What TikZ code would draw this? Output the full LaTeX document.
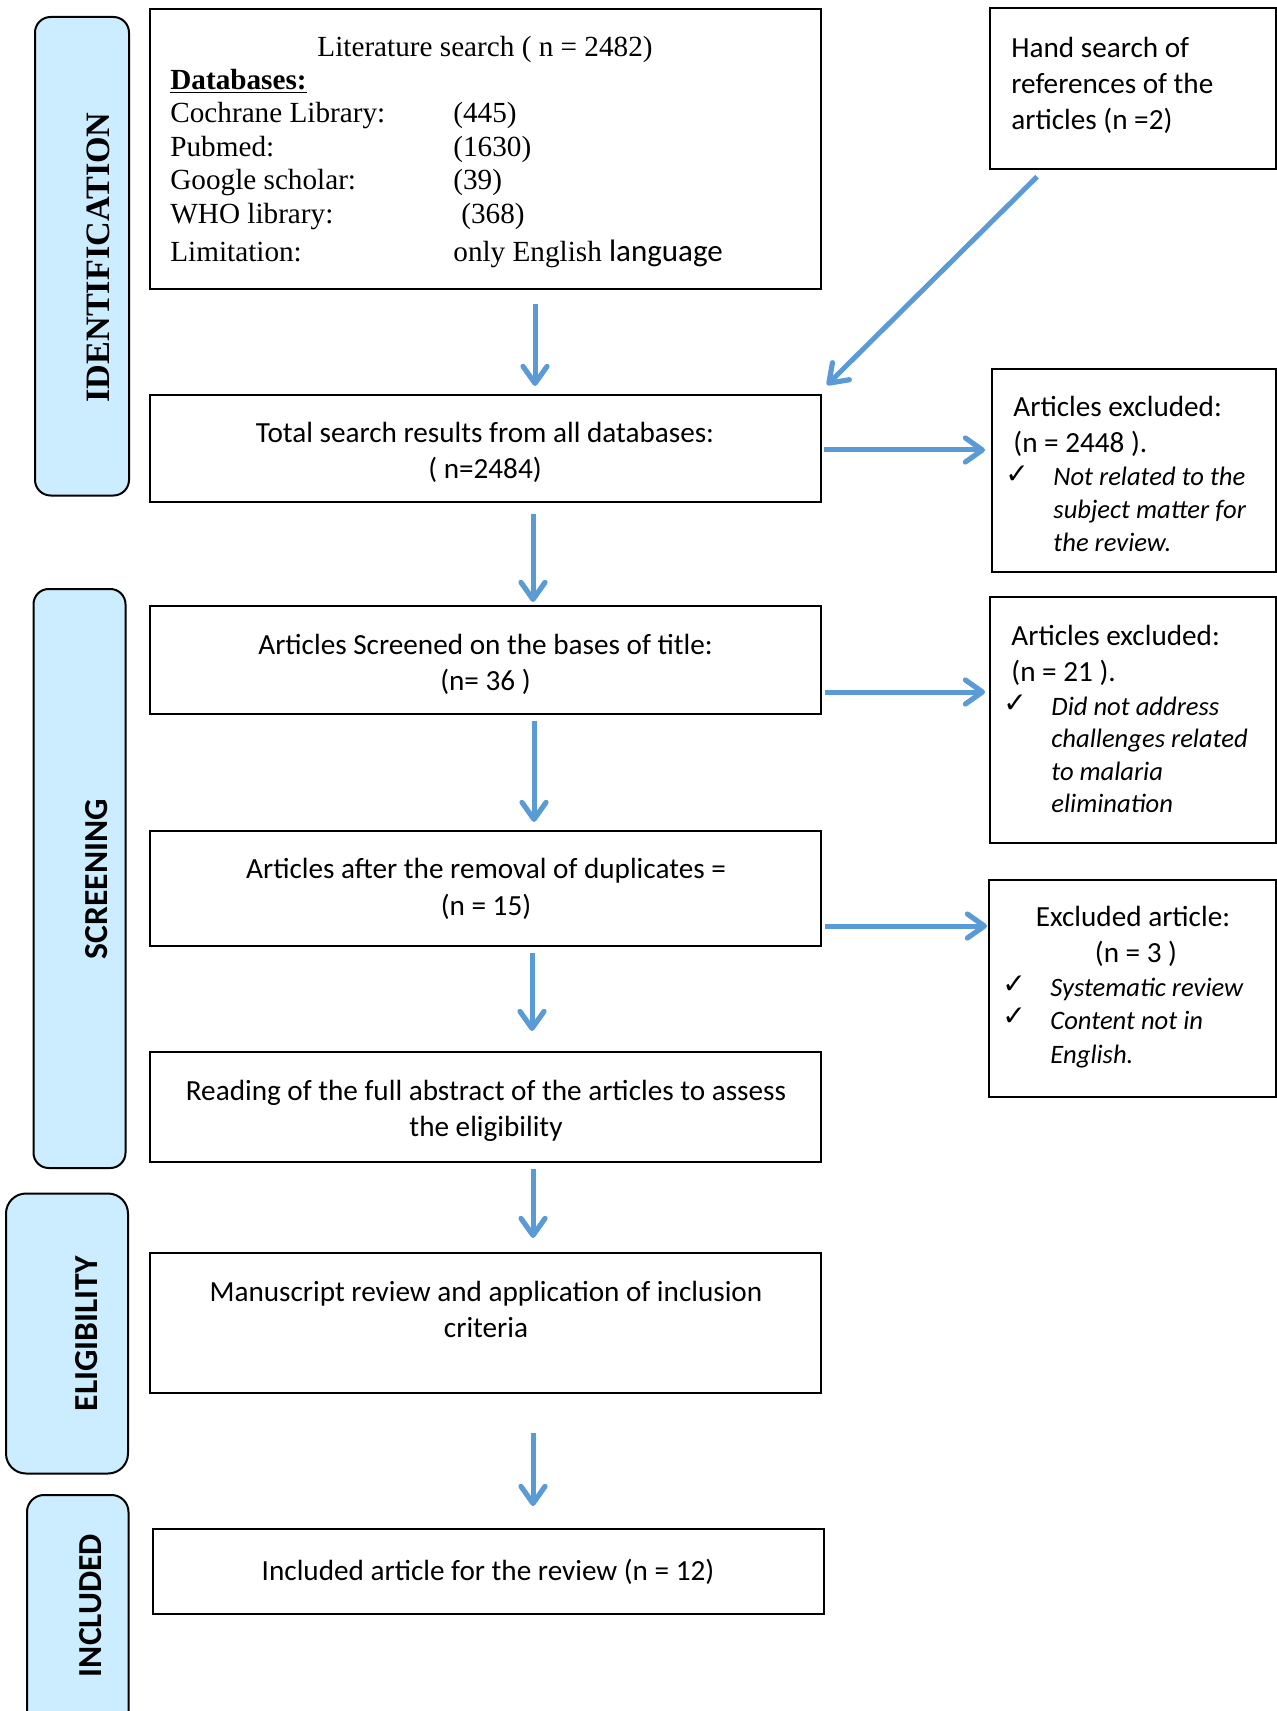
\documentclass[tikz,border=0pt]{standalone}
\usepackage{fontspec}
\setmainfont{Liberation Serif}
\newfontfamily\calfont{Carlito}
\newfontfamily\dvfont{DejaVu Sans}
\usetikzlibrary{arrows.meta,calc}
\definecolor{bandblue}{RGB}{204,236,255}
\definecolor{arrowblue}{RGB}{91,155,213}
\tikzset{
  box/.style={draw, line width=1pt, inner sep=0pt},
  band/.style={draw, fill=bandblue, line width=1pt, inner sep=0pt},
  tc/.style={font=\calfont\fontsize{14.6}{17.5}\selectfont, inner sep=0pt, anchor=base},
  tcl/.style={tc, anchor=base west},
  ti/.style={font=\calfont\itshape\fontsize{13.3}{16}\selectfont, inner sep=0pt, anchor=base west},
  tt/.style={font=\fontsize{14.6}{17.5}\selectfont, inner sep=0pt, anchor=base west},
  ck/.style={font=\dvfont\fontsize{14}{16}\selectfont, inner sep=0pt, anchor=base west},
  lblsf/.style={font=\calfont\bfseries\fontsize{16.8}{20}\selectfont, inner sep=0pt, rotate=90},
  arr/.style={draw=arrowblue, line width=2.5pt, -{Straight Barb[length=8.5pt,width=12pt,line width=2.6pt,round]}}
}
\begin{document}
\begin{tikzpicture}[x=0.5pt,y=-0.5pt]
\useasboundingbox (0,0) rectangle (1277,1711);
\clip (0,0) rectangle (1277,1711);
% phase bands
\node[band, rounded corners=7.8pt, minimum width=47pt, minimum height=239.25pt] (bident) at (82,256.25) {};
\node[band, rounded corners=7.6pt, minimum width=46pt, minimum height=289.5pt] (bscreen) at (79.5,878.5) {};
\node[band, rounded corners=10pt, minimum width=61pt, minimum height=140pt] (belig) at (67,1333.5) {};
\node[band, rounded corners=8.5pt, minimum width=50.75pt, minimum height=155pt] (bincl) at (77.75,1650) {};
\node[font=\bfseries\fontsize{17.1}{20}\selectfont, inner sep=0pt, rotate=90] (lident) at (98,257.4) {IDENTIFICATION};
\node[lblsf] (lscreen) at (97,879) {SCREENING};
\node[lblsf] (lelig) at (87,1333.5) {ELIGIBILITY};
\node[lblsf] (lincl) at (91,1605.6) {INCLUDED};
% main boxes
\node[box, minimum width=335.75pt, minimum height=140.15pt] (A) at (485.25,148.85) {};
\node[box, minimum width=142.75pt, minimum height=80.4pt] (H) at (1132.75,88.85) {};
\node[box, minimum width=335.75pt, minimum height=53.5pt] (B) at (485.25,448.5) {};
\node[box, minimum width=141.75pt, minimum height=101.5pt] (E1) at (1133.75,470.5) {};
\node[box, minimum width=335.75pt, minimum height=54pt] (C) at (485.25,660) {};
\node[box, minimum width=142.75pt, minimum height=123pt] (E2) at (1132.75,720) {};
\node[box, minimum width=335.75pt, minimum height=57.5pt] (D) at (485.25,888.5) {};
\node[box, minimum width=143.25pt, minimum height=108.5pt] (E3) at (1132.25,988) {};
\node[box, minimum width=335.75pt, minimum height=55pt] (E) at (485.25,1107) {};
\node[box, minimum width=335.75pt, minimum height=70pt] (F) at (485.25,1323) {};
\node[box, minimum width=335.5pt, minimum height=42.5pt] (G) at (488.5,1571.5) {};
% box A text
\node[tt, anchor=base] (a0) at (485,56.5) {Literature search ( n = 2482)};
\node[tt, font=\bfseries\fontsize{14.6}{17.5}\selectfont] (a1) at (170,89.5) {\underline{Databases:}};
\node[tt] (a2) at (170,123) {Cochrane Library:};
\node[tt] (a3) at (170,156.5) {Pubmed:};
\node[tt] (a4) at (170,190) {Google scholar:};
\node[tt] (a5) at (170,224) {WHO library:};
\node[tt] (a6) at (170,261.5) {Limitation:};
\node[tt] (b2) at (453,123) {(445)};
\node[tt] (b3) at (453,156.5) {(1630)};
\node[tt] (b4) at (453,190) {(39)};
\node[tt] (b5) at (461,224) {(368)};
\node[tt] (b6) at (453,261.5) {only English {\calfont\fontsize{15.5}{17.5}\selectfont language}};
% centred box texts
\node[tc] (tb1) at (485,443) {Total search results from all databases:};
\node[tc] (tb2) at (485,479) {( n=2484)};
\node[tc] (tc1) at (485.5,654) {Articles Screened on the bases of title:};
\node[tc] (tc2) at (485.5,690) {(n= 36 )};
\node[tc] (td1) at (486,878) {Articles after the removal of duplicates =};
\node[tc] (td2) at (486,915) {(n = 15)};
\node[tc] (te1) at (486,1100.5) {Reading of the full abstract of the articles to assess};
\node[tc] (te2) at (486,1136.5) {the eligibility};
\node[tc] (tf1) at (486,1301) {Manuscript review and application of inclusion};
\node[tc] (tf2) at (486,1337.5) {criteria};
\node[tc] (tg1) at (488,1580) {Included article for the review (n = 12)};
% hand search
\node[tcl] (h1) at (1011,57.5) {Hand search of};
\node[tcl] (h2) at (1011,94) {references of the};
\node[tcl] (h3) at (1011,130) {articles (n =2)};
% exclusion 1
\node[tcl] (x11) at (1013,416.5) {Articles excluded:};
\node[tcl] (x12) at (1013,452.5) {(n = 2448 ).};
\node[ck] (k11) at (1005,483) {✓};
\node[ti] (x13) at (1053,485.5) {Not related to the};
\node[ti] (x14) at (1053,518) {subject matter for};
\node[ti] (x15) at (1053,551) {the review.};
% exclusion 2
\node[tcl] (x21) at (1011,645) {Articles excluded:};
\node[tcl] (x22) at (1011,681) {(n = 21 ).};
\node[ck] (k21) at (1003,712) {✓};
\node[ti] (x23) at (1051,715) {Did not address};
\node[ti] (x24) at (1051,747.5) {challenges related};
\node[ti] (x25) at (1051,780) {to malaria};
\node[ti] (x26) at (1051,812) {elimination};
% exclusion 3
\node[tc] (x31) at (1133,926.7) {Excluded article:};
\node[tc] (x32) at (1136,962.7) {(n = 3 )};
\node[ck] (k31) at (1002,993) {✓};
\node[ck] (k32) at (1002,1025) {✓};
\node[ti] (x33) at (1050,996) {Systematic review};
\node[ti] (x34) at (1050,1029.3) {Content not in};
\node[ti] (x35) at (1050,1063.3) {English.};
% connector guide coordinates
\coordinate (v1) at (535,0);
\coordinate (v2) at (533,0);
\coordinate (v3) at (534,0);
\coordinate (v4) at (532,0);
\coordinate (r1) at (0,450);
\coordinate (r2) at (0,692);
\coordinate (r3) at (0,926);
% connectors
\draw[arr] ($(A.south -| v1)+(0,14)$) -- ($(B.north -| v1)+(0,-8)$);
\draw[arr] ($(H.south west)+(48,6.5)$) -- ($(B.north east)+(5,-9)$);
\draw[arr] ($(B.east |- r1)+(2,0)$) -- ($(E1.west |- r1)+(-6,0)$);
\draw[arr] ($(B.south -| v2)+(0,11)$) -- ($(C.north -| v2)+(0,-3)$);
\draw[arr] ($(C.east |- r2)+(3,0)$) -- ($(E2.west |- r2)+(-4,0)$);
\draw[arr] ($(C.south -| v3)+(0,6)$) -- ($(D.north -| v3)+(0,-8)$);
\draw[arr] ($(D.east |- r3)+(3,0)$) -- ($(E3.west |- r3)+(-1,0)$);
\draw[arr] ($(D.south -| v4)+(0,6)$) -- ($(E.north -| v4)+(0,-20)$);
\draw[arr] ($(E.south -| v2)+(0,6)$) -- ($(F.north -| v2)+(0,-14)$);
\draw[arr] ($(F.south -| v2)+(0,39)$) -- ($(G.north -| v2)+(0,-22)$);
\end{tikzpicture}
\end{document}
